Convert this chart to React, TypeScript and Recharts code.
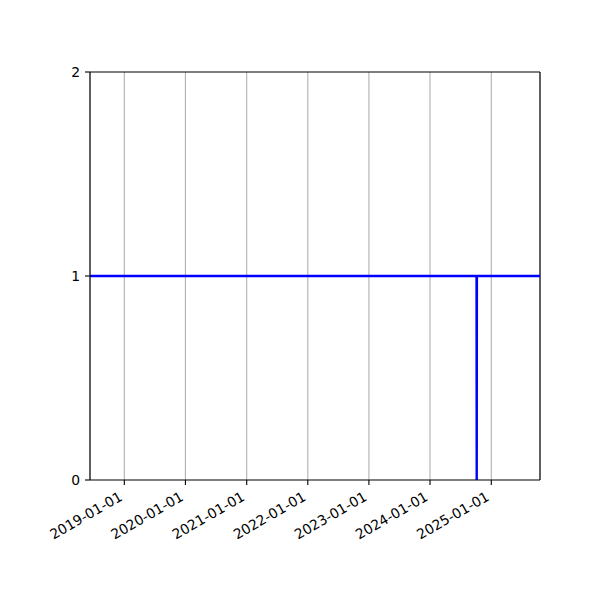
import React from 'react';
import { LineChart, Line, XAxis, YAxis, CartesianGrid, ReferenceLine } from 'recharts';

const dates = ['2018-06-10', '2024-10-05', '2024-10-06', '2024-10-07', '2025-10-19'];
const values = [1, 1, 0, 1, 1];
const xTickLabels = ['2019-01-01', '2020-01-01', '2021-01-01', '2022-01-01', '2023-01-01', '2024-01-01', '2025-01-01'];
const yTicks = [0, 1, 2];
const xDomainLabels = ['2018-06-10', '2025-10-19'];

const toTs = (s: string) => {
  const [y, m, d] = s.split('-').map(Number);
  return Date.UTC(y, m - 1, d);
};

const data = dates.map((d, i) => ({ t: toTs(d), v: values[i] }));
const xTicks = xTickLabels.map(toTs);
const xDomain = xDomainLabels.map(toTs);

const fmt = (ts: number) => {
  const d = new Date(ts);
  const mm = String(d.getUTCMonth() + 1).padStart(2, '0');
  const dd = String(d.getUTCDate()).padStart(2, '0');
  return `${d.getUTCFullYear()}-${mm}-${dd}`;
};

const FONT = 'DejaVu Sans';

const DateTick = (props: any) => {
  const { x, y, payload } = props;
  return (
    <g transform={`translate(${x - 1},${y + 14.5})`}>
      <text transform="rotate(-30)" textAnchor="end" fontFamily={FONT} fontSize={13.9} fill="#000">
        {fmt(payload.value)}
      </text>
    </g>
  );
};

export default function App() {
  return (
    <div style={{ position: 'absolute', left: 0, top: 0, width: 600, height: 600, background: '#fff' }}>
      <LineChart width={600} height={600} data={data} margin={{ top: 72, right: 60, left: 0, bottom: 0 }}>
        <CartesianGrid horizontal={false} stroke="#b0b0b0" strokeWidth={1.1} />
        <XAxis
          dataKey="t"
          type="number"
          scale="time"
          domain={xDomain}
          ticks={xTicks}
          allowDataOverflow
          height={120}
          tickSize={5}
          tickMargin={0}
          tick={<DateTick />}
          stroke="#000"
          axisLine={{ stroke: '#000', strokeWidth: 1.1 }}
          tickLine={{ stroke: '#000', strokeWidth: 1.1 }}
          interval={0}
        />
        <YAxis
          type="number"
          domain={[0, 2]}
          ticks={yTicks}
          width={90}
          tickSize={5}
          tickMargin={5}
          tick={{ fontFamily: FONT, fontSize: 13.9, fill: '#000' }}
          axisLine={{ stroke: '#000', strokeWidth: 1.1 }}
          tickLine={{ stroke: '#000', strokeWidth: 1.1 }}
          interval={0}
        />
        <ReferenceLine y={2} stroke="#000" strokeWidth={1.1} ifOverflow="visible" />
        <ReferenceLine x={xDomain[1]} stroke="#000" strokeWidth={1.1} ifOverflow="visible" />
        <Line
          dataKey="v"
          type="linear"
          stroke="#0000ff"
          strokeWidth={2.4}
          dot={false}
          activeDot={false}
          isAnimationActive={false}
        />
      </LineChart>
    </div>
  );
}
